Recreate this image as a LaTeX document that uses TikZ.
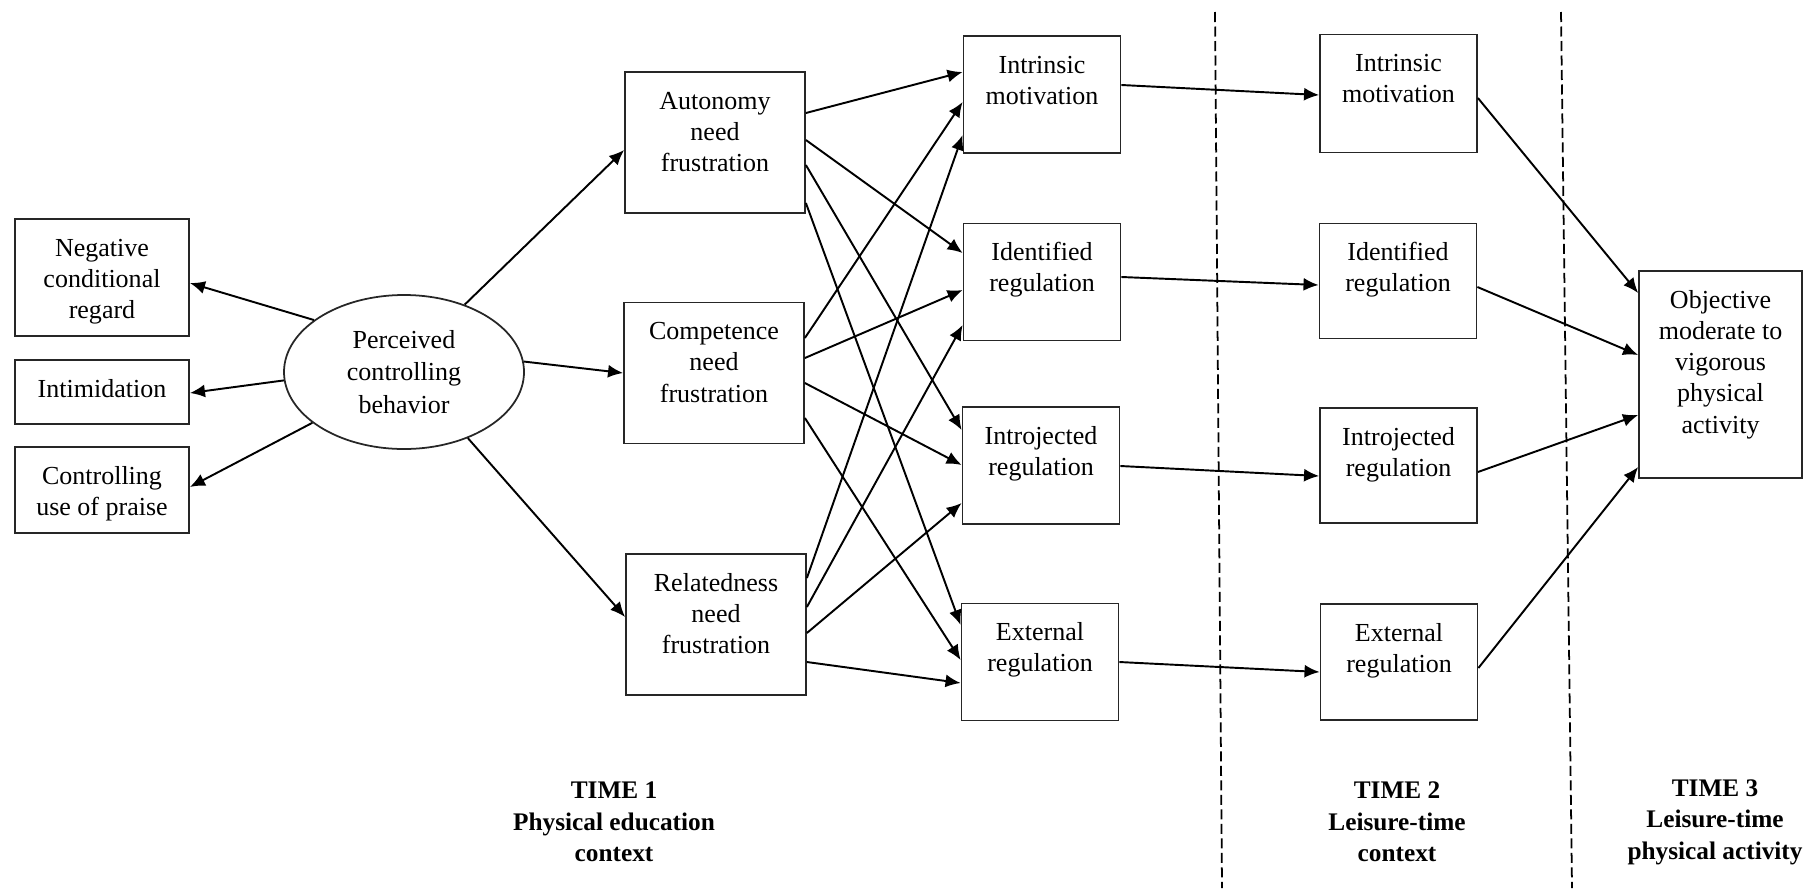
\documentclass[tikz,border=0pt]{standalone}
\usepackage{fontspec}
\setmainfont{Liberation Serif}
\usepackage{tikz}
\usetikzlibrary{shapes,arrows.meta,positioning}

% box text starts at the top of the box
\newcommand{\boxlines}[3]{\parbox[c][#2][t]{#1}{\centering\rule{0pt}{3.7mm}#3\par}}

\begin{document}
\begin{tikzpicture}[
			x = 0.1mm, y = -0.1mm,
			>={Latex[length=4.3pt,width=3.7pt]},
			every node/.style = {font=\fontsize{7.4}{8.9}\selectfont},
			box/.style = {draw=black!85, line width=0.5pt, inner sep=0pt},
			arr/.style = {->, line width=0.55pt},
			divider/.style = {line width=0.5pt, dash pattern=on 1mm off 0.45mm},
			timelabel/.style = {align=center, font=\fontsize{7.2}{9}\selectfont\bfseries}
			]

			\useasboundingbox (0,0) rectangle (1818,888);

			% time 1
			\node[box] (neg) at (102,277.5) {\boxlines{17.4mm}{11.7mm}{Negative\\conditional\\regard}};
			\node[box] (intim) at (102,392) {\boxlines{17.4mm}{6.4mm}{Intimidation}};
			\node[box] (praise) at (102,490) {\boxlines{17.4mm}{8.6mm}{Controlling\\use of praise}};
			\node[draw=black!85, line width=0.5pt, ellipse, minimum width=24mm, minimum height=15.4mm,
				inner sep=0pt, align=center, font=\fontsize{7.4}{9.2}\selectfont] (pcb) at (404,372) {Perceived\\controlling\\behavior};

			\node[box] (aut) at (715,142.5) {\boxlines{18mm}{14.1mm}{Autonomy\\need\\frustration}};
			\node[box] (comp) at (714,373) {\boxlines{18mm}{14.1mm}{Competence\\need\\frustration}};
			\node[box] (rel) at (716,624.5) {\boxlines{18mm}{14.1mm}{Relatedness\\need\\frustration}};

			\node[box] (im1) at (1042,94.5) {\boxlines{15.7mm}{11.7mm}{Intrinsic\\motivation}};
			\node[box] (idr1) at (1042,282) {\boxlines{15.7mm}{11.7mm}{Identified\\regulation}};
			\node[box] (ijr1) at (1041,465.5) {\boxlines{15.7mm}{11.7mm}{Introjected\\regulation}};
			\node[box] (exr1) at (1040,662) {\boxlines{15.7mm}{11.7mm}{External\\regulation}};

			% time 2
			\node[box] (im2) at (1398.5,93.5) {\boxlines{15.7mm}{11.8mm}{Intrinsic\\motivation}};
			\node[box] (idr2) at (1398,281) {\boxlines{15.7mm}{11.5mm}{Identified\\regulation}};
			\node[box] (ijr2) at (1398.5,465.5) {\boxlines{15.7mm}{11.5mm}{Introjected\\regulation}};
			\node[box] (exr2) at (1399,662) {\boxlines{15.7mm}{11.6mm}{External\\regulation}};

			% time 3
			\node[box] (obj) at (1720.5,374.5) {\boxlines{16.3mm}{20.7mm}{Objective\\moderate to\\vigorous\\physical\\activity}};

			\node[timelabel] (t1) at (614,822) {TIME 1\\Physical education\\context};
			\node[timelabel] (t2) at (1397,822) {TIME 2\\Leisure-time\\context};
			\node[timelabel] (t3) at (1715,822) {TIME 3\\Leisure-time\\physical activity};

			\draw[divider] (1215,12) -- (1222,888);
			\draw[divider] (1561,12) -- (1572,888);

			% controlling behaviour
			\draw[arr] (pcb.150) -- (neg.east |- 0,283);
			\draw[arr] (pcb.184) -- (intim.east |- 0,393);
			\draw[arr] (pcb.209) -- (praise.east |- 0,487);
			\draw[arr] (pcb.48) -- (aut.west |- 0,150);
			\draw[arr] (pcb.5) -- (comp.west);
			\draw[arr] (pcb.314) -- (rel.west |- 0,617);

			% need frustration
			\draw[arr] (aut.east |- 0,113) -- (im1.west |- 0,72);
			\draw[arr] (aut.east |- 0,140) -- (idr1.west |- 0,253);
			\draw[arr] (aut.east |- 0,165) -- (ijr1.west |- 0,430);
			\draw[arr] (aut.east |- 0,203) -- (exr1.west |- 0,625);

			\draw[arr] (comp.east |- 0,338) -- (im1.west |- 0,102);
			\draw[arr] (comp.east |- 0,358) -- (idr1.west |- 0,290);
			\draw[arr] (comp.east |- 0,383) -- (ijr1.west |- 0,465);
			\draw[arr] (comp.east |- 0,418) -- (exr1.west |- 0,660);

			\draw[arr] (rel.east |- 0,578) -- (im1.west |- 0,135);
			\draw[arr] (rel.east |- 0,607) -- (idr1.west |- 0,325);
			\draw[arr] (rel.east |- 0,633) -- (ijr1.west |- 0,503);
			\draw[arr] (rel.east |- 0,662) -- (exr1.west |- 0,683);

			% motivation over time
			\draw[arr] (im1.east |- 0,85) -- (im2.west |- 0,95);
			\draw[arr] (idr1.east |- 0,277) -- (idr2.west |- 0,285);
			\draw[arr] (ijr1.east |- 0,466) -- (ijr2.west |- 0,476);
			\draw[arr] (exr1.east |- 0,662) -- (exr2.west |- 0,672);

			\draw[arr] (im2.east |- 0,98) -- (obj.west |- 0,293);
			\draw[arr] (idr2.east |- 0,287) -- (obj.west |- 0,355);
			\draw[arr] (ijr2.east |- 0,472) -- (obj.west |- 0,415);
			\draw[arr] (exr2.east |- 0,668) -- (obj.west |- 0,467);

		\end{tikzpicture}
\end{document}
